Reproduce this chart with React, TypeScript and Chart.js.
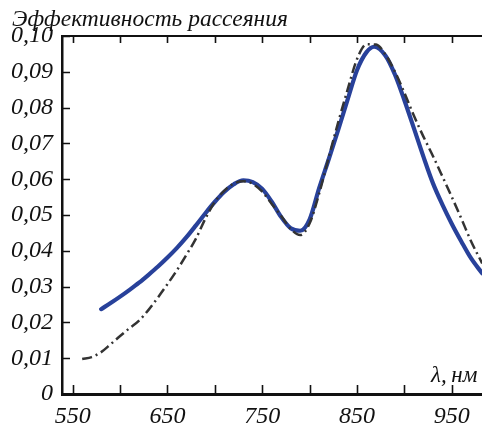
import React, { useEffect, useRef } from 'react';
import { Chart, registerables } from 'chart.js';

Chart.register(...registerables);

const FONT = '"Liberation Serif", "Times New Roman", serif';
const TITLE = 'Эффективность рассеяния';
const X_LABEL = 'λ,\u2009нм';

const xTicks = [550, 600, 650, 700, 750, 800, 850, 900, 950];
const xLabelTicks = [550, 650, 750, 850, 950];
const yTicks = [0, 0.01, 0.02, 0.03, 0.04, 0.05, 0.06, 0.07, 0.08, 0.09, 0.1];

const blueX = [580, 590, 600, 610, 620, 630, 640, 650, 660, 670, 680, 690, 700, 710, 720, 730, 740, 750, 760, 770, 780, 790, 800, 810, 820, 830, 840, 850, 860, 868, 880, 890, 900, 910, 920, 930, 940, 950, 960, 970, 982];
const blueY = [0.0237, 0.0254, 0.0272, 0.0291, 0.0311, 0.0333, 0.0356, 0.0381, 0.0408, 0.0438, 0.0471, 0.0505, 0.0537, 0.0565, 0.0586, 0.0597, 0.0592, 0.0573, 0.0537, 0.0494, 0.0463, 0.0456, 0.0488, 0.0575, 0.0655, 0.0737, 0.0822, 0.0905, 0.0955, 0.097, 0.0945, 0.0892, 0.082, 0.0742, 0.0663, 0.0589, 0.0529, 0.0475, 0.0426, 0.038, 0.0337];

const blackX = [560, 570, 580, 590, 600, 610, 620, 630, 640, 650, 660, 670, 680, 690, 700, 710, 720, 730, 740, 750, 760, 770, 780, 790, 800, 810, 820, 830, 840, 850, 860, 870, 880, 890, 900, 910, 920, 930, 940, 950, 960, 970, 982];
const blackY = [0.0098, 0.0103, 0.0117, 0.0139, 0.0162, 0.0184, 0.0205, 0.0235, 0.027, 0.0307, 0.0346, 0.0389, 0.0434, 0.049, 0.0537, 0.0568, 0.0588, 0.0594, 0.0587, 0.0565, 0.0531, 0.0497, 0.0461, 0.0444, 0.0477, 0.056, 0.066, 0.0758, 0.085, 0.0936, 0.0977, 0.0976, 0.0948, 0.09, 0.0841, 0.0777, 0.0719, 0.0665, 0.0608, 0.055, 0.049, 0.0428, 0.0365];

const X_MIN = 538.7;
const X_MAX = 981.8;
const Y_MIN = 0;
const Y_MAX = 0.1;

const framePlugin = {
  id: 'framePlugin',
  afterDraw(chart: any) {
    const { ctx, chartArea: a, scales } = chart;
    const x = scales.x;
    const y = scales.y;
    ctx.save();
    ctx.strokeStyle = '#111';
    ctx.lineWidth = 2;
    ctx.beginPath();
    ctx.moveTo(a.left, a.top);
    ctx.lineTo(a.right, a.top);
    ctx.stroke();
    ctx.lineWidth = 1.6;
    ctx.beginPath();
    xTicks.forEach((v) => {
      const px = Math.round(x.getPixelForValue(v)) + 0.5;
      ctx.moveTo(px, a.bottom);
      ctx.lineTo(px, a.bottom - 9);
      ctx.moveTo(px, a.top);
      ctx.lineTo(px, a.top + 7);
    });
    yTicks.forEach((v) => {
      const py = Math.round(y.getPixelForValue(v)) + 0.5;
      ctx.moveTo(a.left, py);
      ctx.lineTo(a.left + 8, py);
    });
    ctx.stroke();
    ctx.fillStyle = '#111';
    ctx.textBaseline = 'alphabetic';
    ctx.textAlign = 'left';
    ctx.font = `italic 23.5px ${FONT}`;
    ctx.fillText(TITLE, 12, 26);
    ctx.font = `italic 23px ${FONT}`;
    ctx.fillText(X_LABEL, 431, 382);
    ctx.restore();
  },
};

export default function App() {
  const ref = useRef<HTMLCanvasElement | null>(null);
  useEffect(() => {
    let chart: any = null;
    let cancelled = false;
    const build = () => {
      if (cancelled || !ref.current) return;
      chart = new Chart(ref.current, {
        type: 'line',
        data: {
          datasets: [
            {
              label: 'black',
              data: blackX.map((v, i) => ({ x: v, y: blackY[i] })),
              borderColor: '#333333',
              borderWidth: 2.5,
              borderDash: [10, 4, 2, 4],
              pointRadius: 0,
              cubicInterpolationMode: 'monotone',
              fill: false,
            },
            {
              label: 'blue',
              data: blueX.map((v, i) => ({ x: v, y: blueY[i] })),
              borderColor: '#28419a',
              borderWidth: 4.2,
              pointRadius: 0,
              cubicInterpolationMode: 'monotone',
              fill: false,
              borderCapStyle: 'round',
            },
          ],
        },
        options: {
          animation: false,
          responsive: false,
          layout: { padding: { top: 36, left: 0, right: 0, bottom: 0 } },
          plugins: { legend: { display: false }, tooltip: { enabled: false }, title: { display: false } },
          scales: {
            x: {
              type: 'linear',
              min: X_MIN,
              max: X_MAX,
              afterFit: (s: any) => { s.height = 29; },
              afterBuildTicks: (s: any) => { s.ticks = xLabelTicks.map((v) => ({ value: v })); },
              grid: { display: false, drawTicks: false },
              border: { display: true, color: '#111', width: 3 },
              ticks: {
                padding: 8,
                maxRotation: 0,
                autoSkip: false,
                color: '#111',
                font: { family: FONT, size: 24, style: 'italic' },
                callback: (v: any) => String(v),
              },
            },
            y: {
              type: 'linear',
              min: Y_MIN,
              max: Y_MAX,
              afterFit: (s: any) => { s.width = 62; },
              afterBuildTicks: (s: any) => { s.ticks = yTicks.map((v) => ({ value: v })); },
              grid: { display: false, drawTicks: false },
              border: { display: true, color: '#111', width: 2.5 },
              ticks: {
                padding: 9,
                autoSkip: false,
                color: '#111',
                font: { family: FONT, size: 24, style: 'italic' },
                callback: (v: any) => (Number(v) === 0 ? '0' : Number(v).toFixed(2).replace('.', ',')),
              },
            },
          },
        },
        plugins: [framePlugin],
      } as any);
    };
    const fonts: any = (document as any).fonts;
    if (fonts && fonts.load) {
      Promise.all([
        fonts.load('italic 24px "Liberation Serif"', 'Эλ0123456789,'),
      ]).then(build, build);
    } else {
      build();
    }
    return () => {
      cancelled = true;
      if (chart) chart.destroy();
    };
  }, []);
  return (
    <div style={{ position: 'fixed', left: 0, top: 0, width: 482, height: 423, background: '#fff' }}>
      <canvas ref={ref} width={482} height={423} style={{ display: 'block' }} />
    </div>
  );
}
